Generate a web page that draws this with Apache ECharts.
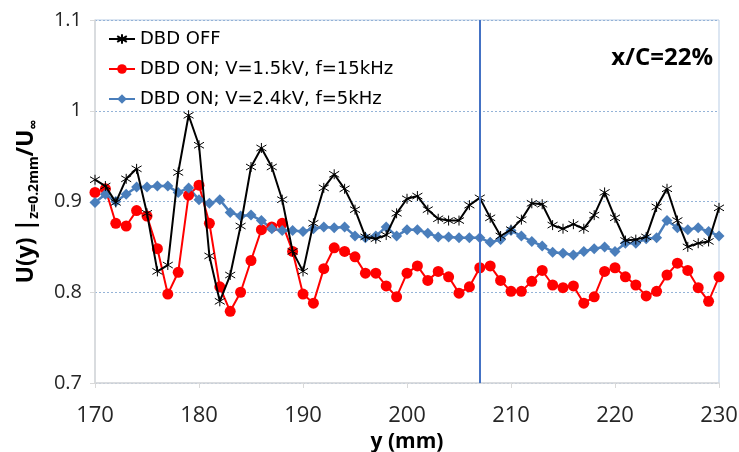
<!DOCTYPE html>
<html>
<head>
<meta charset="utf-8">
<script src="https://cdn.jsdelivr.net/npm/echarts@6/dist/echarts.min.js"></script>
<style>
html,body{margin:0;padding:0;background:#fff;}
#chart{width:739px;height:452px;}
</style>
</head>
<body>
<div id="chart"></div>
<script>
const yPositions = [170,171,172,173,174,175,176,177,178,179,180,181,182,183,184,185,186,187,188,189,190,191,192,193,194,195,196,197,198,199,200,201,202,203,204,205,206,207,208,209,210,211,212,213,214,215,216,217,218,219,220,221,222,223,224,225,226,227,228,229,230];
const dbdOff = [0.924,0.917,0.899,0.925,0.936,0.887,0.823,0.830,0.932,0.995,0.962,0.840,0.790,0.819,0.873,0.938,0.959,0.938,0.902,0.845,0.823,0.876,0.915,0.930,0.914,0.891,0.861,0.859,0.863,0.887,0.903,0.906,0.891,0.881,0.879,0.879,0.896,0.904,0.882,0.862,0.869,0.880,0.898,0.897,0.874,0.870,0.875,0.870,0.885,0.910,0.882,0.857,0.858,0.861,0.894,0.914,0.879,0.850,0.854,0.856,0.893];
const dbdOn15 = [0.910,0.914,0.876,0.873,0.890,0.884,0.848,0.798,0.822,0.907,0.918,0.876,0.806,0.779,0.800,0.835,0.869,0.872,0.876,0.845,0.798,0.788,0.826,0.849,0.845,0.839,0.821,0.821,0.807,0.795,0.821,0.829,0.813,0.823,0.817,0.799,0.806,0.827,0.829,0.813,0.801,0.801,0.812,0.824,0.808,0.805,0.807,0.788,0.795,0.823,0.827,0.817,0.808,0.796,0.801,0.819,0.832,0.824,0.805,0.790,0.817];
const dbdOn24 = [0.899,0.908,0.900,0.908,0.916,0.916,0.917,0.917,0.910,0.915,0.902,0.898,0.902,0.888,0.884,0.885,0.879,0.870,0.868,0.868,0.867,0.870,0.872,0.871,0.872,0.862,0.860,0.862,0.872,0.862,0.869,0.869,0.865,0.861,0.861,0.860,0.860,0.860,0.855,0.858,0.868,0.862,0.856,0.851,0.844,0.843,0.841,0.845,0.848,0.850,0.845,0.854,0.854,0.859,0.860,0.879,0.871,0.869,0.871,0.867,0.862];
const seriesNames = ['DBD OFF','DBD ON; V=1.5kV, f=15kHz','DBD ON; V=2.4kV, f=5kHz'];
const xTicks = [170,180,190,200,210,220,230];
const yTicks = [0.7,0.8,0.9,1,1.1];
const markerX = 207;
const annotation = 'x/C=22%';

const FONT = 'Open Sans';
function pairs(vals){ return yPositions.map((x,i)=>[x, vals[i]]); }
const starPath = 'path://M5,0L5,10M0,2L10,8M0,8L10,2';

const chart = echarts.init(document.getElementById('chart'), null, {renderer:'canvas'});
chart.setOption({
  animation:false,
  backgroundColor:'#fff',
  textStyle:{fontFamily:FONT},
  grid:{left:95,right:20,top:20,bottom:69,show:true,borderColor:'#b9cde5',borderWidth:1,containLabel:false,outerBoundsMode:'none'},
  legend:{
    orient:'vertical', left:103, top:25, itemGap:12, itemWidth:26, itemHeight:12,
    textStyle:{fontSize:18,color:'#000',fontFamily:'DejaVu Sans'},
    data:seriesNames
  },
  graphic:[{type:'text', x:713, y:58, style:{text:annotation, font:'bold 24px "'+FONT+'"', fill:'#000', align:'right', verticalAlign:'middle'}}],
  xAxis:{
    type:'value', min:xTicks[0], max:xTicks[xTicks.length-1], interval:10,
    name:'y (mm)', nameLocation:'middle', nameGap:45,
    nameTextStyle:{fontSize:21,fontWeight:'bold',color:'#000',fontFamily:FONT},
    axisLine:{show:true,onZero:false,lineStyle:{color:'#d9d9d9',width:1.5}},
    axisTick:{show:true,length:5,lineStyle:{color:'#d9d9d9'}},
    axisLabel:{fontSize:22,color:'#262626',margin:22,fontFamily:FONT},
    splitLine:{show:false}
  },
  yAxis:{
    type:'value', min:yTicks[0], max:yTicks[yTicks.length-1], interval:0.1,
    name:'{a|U(y) |}{s|z=0.2mm}{a|/U}{s|∞}', nameLocation:'middle', nameRotate:90, nameGap:54,
    nameTextStyle:{
      color:'#000',
      rich:{
        a:{fontSize:23,fontWeight:'bold',fontFamily:FONT,lineHeight:30,verticalAlign:'middle'},
        s:{fontSize:14,fontWeight:'bold',fontFamily:FONT,lineHeight:14,verticalAlign:'bottom'}
      }
    },
    axisLine:{show:true,onZero:false,lineStyle:{color:'#d9d9d9',width:1.5}},
    axisTick:{show:true,length:5,lineStyle:{color:'#d9d9d9'}},
    axisLabel:{fontSize:20,color:'#262626',margin:13,fontFamily:FONT,
      formatter:function(v){ return String(Math.round(v*10)/10); }},
    splitLine:{show:true,lineStyle:{color:'#95b3d7',type:[2,2],width:1}}
  },
  series:[
    {name:seriesNames[0], type:'line', data:pairs(dbdOff), symbol:starPath, symbolSize:10,
     lineStyle:{color:'#000',width:2}, itemStyle:{color:'#000',borderColor:'#000',borderWidth:1}, z:3,
     markLine:{silent:true, symbol:['none','none'], label:{show:false},
       lineStyle:{color:'#4472c4',width:2,type:'solid'}, data:[{xAxis:markerX}]}},
    {name:seriesNames[1], type:'line', data:pairs(dbdOn15), symbol:'circle', symbolSize:11,
     lineStyle:{color:'#ff0000',width:2}, itemStyle:{color:'#ff0000'}, z:2},
    {name:seriesNames[2], type:'line', data:pairs(dbdOn24), symbol:'diamond', symbolSize:11,
     lineStyle:{color:'#4a7ebb',width:2.5}, itemStyle:{color:'#4a7ebb'}, z:2}
  ]
});
</script>
</body>
</html>
